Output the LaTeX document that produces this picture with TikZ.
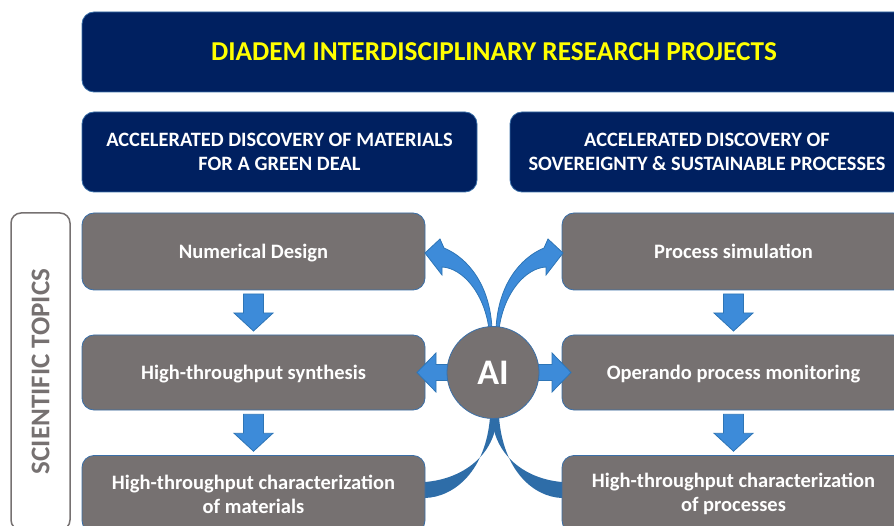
\documentclass[tikz,border=0pt]{standalone}
\usepackage{fontspec}
\setmainfont{Carlito}
\usetikzlibrary{calc}
\definecolor{navy}{HTML}{002060}
\definecolor{hyellow}{HTML}{FFFF00}
\definecolor{boxgray}{HTML}{767171}
\definecolor{edgeblue}{HTML}{3A6FA8}
\definecolor{arrowblue}{HTML}{3D8BD9}
\definecolor{arrowedge}{HTML}{2E75B6}
\definecolor{curveblue}{HTML}{2E6DA8}
\definecolor{topicgray}{HTML}{767171}
\begin{document}
\begin{tikzpicture}[x=1pt,y=-1pt,
  navybox/.style={draw=edgeblue, line width=0.8pt, fill=navy, rounded corners=12pt, align=center, inner sep=0pt},
  graybox/.style={draw=edgeblue, line width=0.8pt, fill=boxgray, rounded corners=12pt, align=center, text=white,
     minimum width=343pt, inner sep=0pt, font=\bfseries\fontsize{20.5}{24}\selectfont},
  oneline/.style={text depth=0pt},
  blockarrow/.style={draw=arrowedge, line width=0.8pt, fill=arrowblue, line join=miter},
  curvearrow/.style={fill=arrowblue, draw=arrowedge, line width=0.8pt},
  curveband/.style={fill=curveblue},
]
\useasboundingbox (0,0) rectangle (894,526);
\clip (0,0) rectangle (894,526);

% headers
\node[navybox, oneline, minimum width=824pt, minimum height=80pt, text=hyellow,
      font=\bfseries\fontsize{27.3}{30}\selectfont] (banner) at (494,52) {DIADEM INTERDISCIPLINARY RESEARCH PROJECTS};
\node[navybox, minimum width=395pt, minimum height=80pt, text=white,
      font=\bfseries\fontsize{20.4}{24}\selectfont] (hl) at (279.5,152) {ACCELERATED DISCOVERY OF MATERIALS\\FOR A GREEN DEAL};
\node[navybox, minimum width=394pt, minimum height=80pt, text=white,
      font=\bfseries\fontsize{20.4}{24}\selectfont] (hr) at (707,152) {ACCELERATED DISCOVERY OF\\SOVEREIGNTY \& SUSTAINABLE PROCESSES};

% scientific topics
\node[draw=topicgray, line width=1.5pt, rounded corners=10pt, rotate=90, minimum width=317pt, minimum height=59pt,
      inner sep=0pt, text=topicgray, font=\bfseries\fontsize{27}{30}\selectfont] (topics) at (40.5,371.5) {SCIENTIFIC TOPICS};

% lower curved bands (behind boxes)
\path[curveband] (490,417) .. controls (486,470) and (455,497) .. (425,498)
   -- (425,482) .. controls (463,479) and (495,455) .. (497,417) -- cycle;
\path[curveband] (499,417) .. controls (503,470) and (533,497) .. (562,498)
   -- (562,482) .. controls (525,479) and (494,455) .. (492,417) -- cycle;

% gray boxes
\node[graybox, oneline, minimum height=77pt] (l1) at (253.5,251.5) {Numerical Design};
\node[graybox, oneline, minimum height=75pt] (l2) at (253.5,372.5) {High-throughput synthesis};
\node[graybox, minimum height=77pt] (l3) at (253.5,494) {High-throughput characterization\\of materials};
\node[graybox, oneline, minimum height=77pt] (r1) at (733.5,251.5) {Process simulation};
\node[graybox, oneline, minimum height=75pt] (r2) at (733.5,372.5) {Operando process monitoring};
\node[graybox, minimum height=77pt] (r3) at (733.5,494) {High-throughput characterization\\of processes};

% down arrows
\coordinate (dl1) at ($(l1.south)!0.5!(l2.north)$);
\coordinate (dl2) at ($(l2.south)!0.5!(l3.north)$);
\coordinate (dr1) at ($(r1.south)!0.5!(r2.north)$);
\coordinate (dr2) at ($(r2.south)!0.5!(r3.north)$);
\foreach \c in {dl1,dl2,dr1,dr2}{
  \path[blockarrow, shift={(\c)}] (-10,-18.5) -- (10,-18.5) -- (10,0.5) -- (19.5,0.5) -- (0,18.5)
     -- (-19.5,0.5) -- (-10,0.5) -- cycle;
}

% AI circle position
\coordinate (aic) at (493,372.5);

% side arrows from AI
\path[blockarrow, shift={(aic)}] (-38,-8) -- (-57,-8) -- (-57,-19.5) -- (-76,0) -- (-57,19.5) -- (-57,8) -- (-38,8) -- cycle;
\path[blockarrow, shift={(aic)}] (38,-8) -- (59,-8) -- (59,-19.5) -- (78,0) -- (59,19.5) -- (59,8) -- (38,8) -- cycle;

% upper curved arrows
\path[curvearrow] (492,329) .. controls (490,285) and (468,258) .. (444,248)
   -- (440,239) -- (425,253) -- (442,275) -- (442,267)
   .. controls (462,268) and (484,292) .. (489,329) -- cycle;
\path[curvearrow] (496,329) .. controls (498,285) and (520,258) .. (544,248)
   -- (548,239) -- (563,253) -- (546,275) -- (546,267)
   .. controls (526,268) and (504,292) .. (499,329) -- cycle;

% AI circle
\node[circle, draw=edgeblue, line width=0.8pt, fill=boxgray, minimum size=92pt, inner sep=0pt, text=white,
      font=\bfseries\fontsize{36}{36}\selectfont] (ai) at (aic) {AI};
\end{tikzpicture}
\end{document}
